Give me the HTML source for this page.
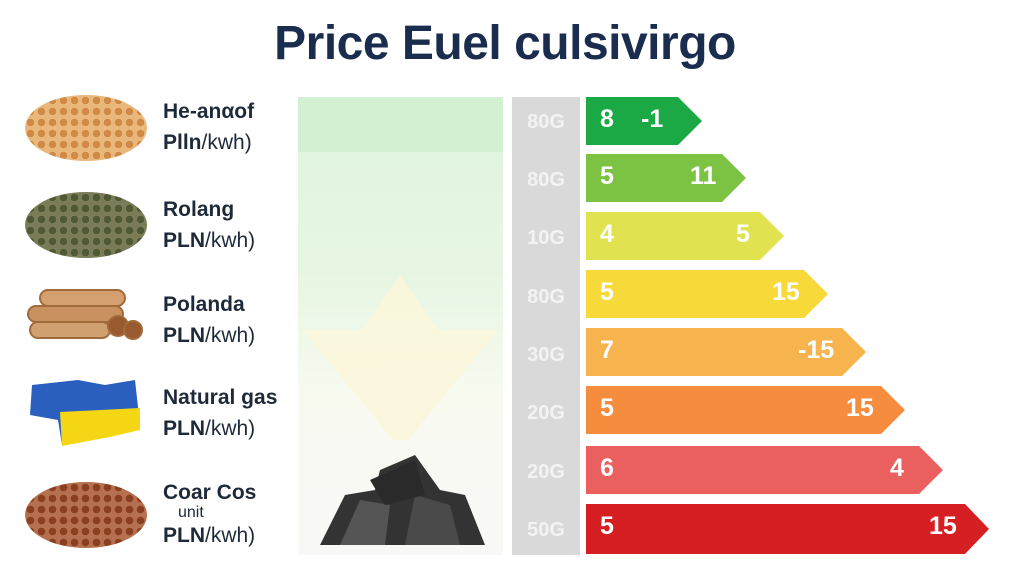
<!DOCTYPE html>
<html><head><style>
body{margin:0;width:1024px;height:585px;background:#fff;position:relative;overflow:hidden;font-family:"Liberation Sans",sans-serif}
.a{position:absolute}
.t{left:0;width:1010px;top:16px;text-align:center;font-size:48px;font-weight:bold;color:#1b2d4f;letter-spacing:-0.5px}
.lb{left:163px;font-size:21px;color:#1e2a3a}
.lb b{font-weight:bold}
.g{left:512px;top:97px;width:68px;height:458px;background:#d9d9d9}
.gl{left:512px;width:68px;text-align:center;color:#f3f3f3;font-size:20px;font-weight:bold}
.bar{left:586px;height:48px}
.bar span{position:absolute;top:8px;color:#fff;font-size:25px;font-weight:bold}
.pile{border-radius:50%;background-size:11px 11px}
</style></head><body>
<div class="a t">Price Euel culsivirgo</div>
<div class="a" style="left:298px;top:97px;width:205px;height:458px;background:linear-gradient(#d3f0d3 0,#d3f0d3 55px,#e2f5e0 55px,#e6f6e2 170px,#eef8e8 230px,#f8faf0 300px,#f8f8f6 458px)"></div>
<svg class="a" style="left:298px;top:270px" width="205" height="170"><polygon points="102,5 140,60 200,60 110,170 95,170 5,60 65,60" fill="#fbf6da" opacity=".8"/></svg>
<svg class="a" style="left:290px;top:450px" width="215" height="105"><polygon points="30,95 55,45 85,40 90,20 125,5 150,40 175,45 195,95" fill="#333"/><polygon points="50,95 70,50 100,55 95,95" fill="#555"/><polygon points="115,95 125,45 160,55 170,95" fill="#4a4a4a"/><polygon points="80,30 125,10 135,45 95,55" fill="#2a2a2a"/></svg>
<div class="a g"></div>
<div class="a gl" style="top:111px">80G</div><div class="a gl" style="top:169px">80G</div><div class="a gl" style="top:227px">10G</div><div class="a gl" style="top:286px">80G</div><div class="a gl" style="top:344px">30G</div><div class="a gl" style="top:402px">20G</div><div class="a gl" style="top:461px">20G</div><div class="a gl" style="top:519px">50G</div>
<div class="a pile" style="left:25px;top:95px;width:122px;height:66px;background-image:radial-gradient(circle,#d08a45 45%,#f0c890 55%,transparent 60%);background-color:#e9b77a"></div>
<div class="a pile" style="left:25px;top:192px;width:122px;height:66px;background-image:radial-gradient(circle,#4f5a35 45%,#8a8a60 55%,transparent 60%);background-color:#7a7c58"></div>
<div class="a pile" style="left:25px;top:482px;width:122px;height:66px;background-image:radial-gradient(circle,#8a4020 45%,#c07a50 55%,transparent 60%);background-color:#b47050"></div>
<svg class="a" style="left:0;top:0" width="1024" height="585">
<polygon points="586,97 678,97 702,121 678,145 586,145" fill="#1ba945"/>
<polygon points="586,154 722,154 746,178 722,202 586,202" fill="#7cc243"/>
<polygon points="586,212 760,212 784,236 760,260 586,260" fill="#e0e34f"/>
<polygon points="586,270 804,270 828,294 804,318 586,318" fill="#f8d93a"/>
<polygon points="586,328 842,328 866,352 842,376 586,376" fill="#f6b34e"/>
<polygon points="586,386 881,386 905,410 881,434 586,434" fill="#f58c3e"/>
<polygon points="586,446 919,446 943,470 919,494 586,494" fill="#e9605f"/>
<polygon points="586,504 965,504 989,529 965,554 586,554" fill="#d61f23"/>
<g stroke="#a06a3a" stroke-width="2"><rect x="40" y="290" width="85" height="16" rx="8" fill="#d4a070"/><rect x="28" y="306" width="95" height="16" rx="8" fill="#c99060"/><rect x="30" y="322" width="80" height="16" rx="8" fill="#d0a070"/><circle cx="118" cy="326" r="10" fill="#9a5a30"/><circle cx="133" cy="330" r="9" fill="#9a5a30"/></g>
<polygon points="32,385 78,380 105,385 135,380 140,425 110,435 80,440 62,445 58,420 30,415" fill="#2a5fbf"/>
<polygon points="60,412 140,408 140,430 110,437 62,446" fill="#f5d615"/>
</svg>
<div class="a bar" style="top:97px"><span style="left:14px">8</span><span style="left:55px">-1</span></div>
<div class="a bar" style="top:154px"><span style="left:14px">5</span><span style="left:104px">11</span></div>
<div class="a bar" style="top:212px"><span style="left:14px">4</span><span style="left:150px">5</span></div>
<div class="a bar" style="top:270px"><span style="left:14px">5</span><span style="left:186px">15</span></div>
<div class="a bar" style="top:328px"><span style="left:14px">7</span><span style="left:212px">-15</span></div>
<div class="a bar" style="top:386px"><span style="left:14px">5</span><span style="left:260px">15</span></div>
<div class="a bar" style="top:446px"><span style="left:14px">6</span><span style="left:304px">4</span></div>
<div class="a bar" style="top:504px;height:50px"><span style="left:14px">5</span><span style="left:343px">15</span></div>
<div class="a lb" style="top:100px"><b>He-anαof</b></div><div class="a lb" style="top:131px"><b>Plln</b>/kwh)</div>
<div class="a lb" style="top:198px"><b>Rolang</b></div><div class="a lb" style="top:229px"><b>PLN</b>/kwh)</div>
<div class="a lb" style="top:293px"><b>Polanda</b></div><div class="a lb" style="top:324px"><b>PLN</b>/kwh)</div>
<div class="a lb" style="top:386px"><b>Natural gas</b></div><div class="a lb" style="top:417px"><b>PLN</b>/kwh)</div>
<div class="a lb" style="top:481px"><b>Coar Cos</b></div><div class="a lb" style="top:504px;left:178px;font-size:16px">unit</div><div class="a lb" style="top:524px"><b>PLN</b>/kwh)</div>
</body></html>
